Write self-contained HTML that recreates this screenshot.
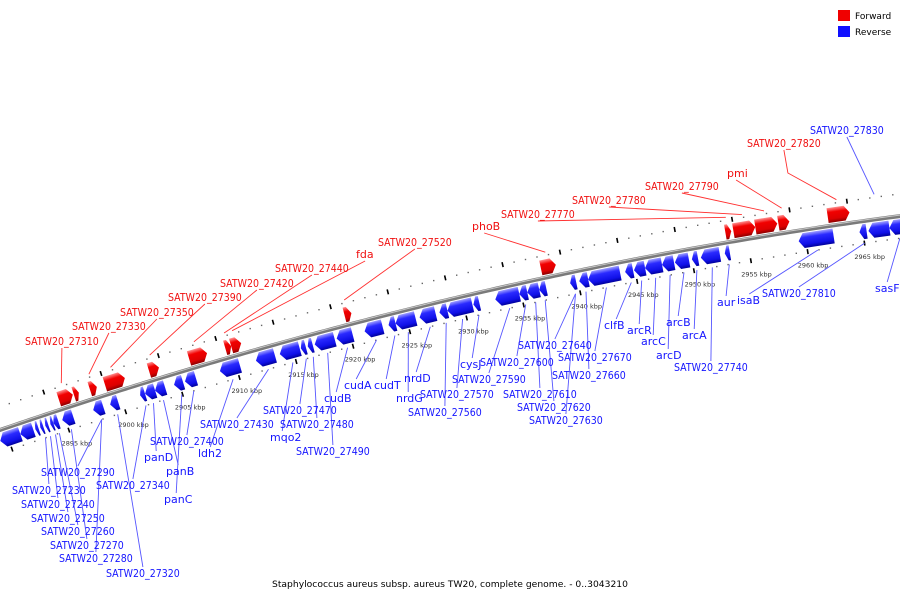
<!DOCTYPE html>
<html><head><meta charset="utf-8"><title>Genome map</title>
<style>
html,body{margin:0;padding:0;background:#fff;}
svg{display:block;font-family:"DejaVu Sans","Liberation Sans",sans-serif;}
</style></head>
<body>
<svg id="chart" width="900" height="600" viewBox="0 0 900 600" xmlns="http://www.w3.org/2000/svg">
<defs>
<linearGradient id="gRed" x1="0" y1="0" x2="0" y2="1">
<stop offset="0" stop-color="#ff9090"/><stop offset="0.3" stop-color="#f20000"/><stop offset="0.75" stop-color="#dd0000"/><stop offset="1" stop-color="#8a0000"/>
</linearGradient>
<linearGradient id="gBlue" x1="0" y1="0" x2="0" y2="1">
<stop offset="0" stop-color="#a0a0ff"/><stop offset="0.3" stop-color="#2a2aff"/><stop offset="0.75" stop-color="#1010e8"/><stop offset="1" stop-color="#00009a"/>
</linearGradient>
</defs>
<g id="legend">
<g>
<rect x="838" y="10" width="12" height="11" fill="#f00000"/>
<text x="855" y="19" font-size="9" fill="#000">Forward</text>
</g>
<g>
<rect x="838" y="26" width="12" height="11" fill="#1010ff"/>
<text x="855" y="35" font-size="9" fill="#000">Reverse</text>
</g>
</g>
<text x="450" y="587" font-size="9" text-anchor="middle" textLength="356" lengthAdjust="spacingAndGlyphs" fill="#000">Staphylococcus aureus subsp. aureus TW20, complete genome. - 0..3043210</text>
<g id="layer"></g>
</svg>
<script>
// ---- data (kbp) ----
const fwdStart = [2895.00,2896.31,2897.71,2899.03,2902.88,2906.38,2909.54,2910.06,2919.96,2937.12,2953.24,2953.94,2955.86,2957.87,2962.17];
const fwdEnd   = [2896.23,2896.75,2898.33,2900.78,2903.76,2907.96,2910.06,2910.94,2920.57,2938.44,2953.76,2955.86,2957.79,2958.84,2964.09];
const revStart = [2889.30,2891.06,2892.37,2892.81,2893.25,2893.69,2893.95,2894.74,2897.45,2898.94,2901.57,2902.00,2902.88,2904.54,2905.51,2908.57,2911.73,2913.83,2915.67,2916.28,2916.89,2918.82,2921.27,2923.37,2923.98,2926.09,2927.84,2928.54,2930.82,2932.74,2934.84,2935.54,2936.59,2939.31,2940.10,2940.89,2944.13,2944.91,2945.88,2947.37,2948.50,2949.99,2950.78,2952.88,2959.37,2964.70,2965.49,2967.33];
const revEnd   = [2891.06,2892.20,2892.64,2893.07,2893.51,2893.95,2894.39,2895.70,2898.33,2899.64,2902.00,2902.88,2903.76,2905.33,2906.47,2910.32,2913.39,2915.58,2916.10,2916.72,2918.64,2920.22,2922.85,2923.98,2925.74,2927.49,2928.54,2930.73,2931.34,2934.84,2935.54,2936.59,2937.21,2939.83,2940.89,2943.69,2944.83,2945.88,2947.37,2948.42,2949.73,2950.52,2952.44,2953.32,2962.43,2965.32,2967.33,2968.90];
const fwdNames = ["SATW20_27310","SATW20_27330","SATW20_27350","SATW20_27390","SATW20_27420","SATW20_27440","fda","SATW20_27520","phoB","SATW20_27770","SATW20_27780","SATW20_27790","pmi","SATW20_27820"];
const fwdGene  = [0,2,3,4,5,6,7,8,9,10,11,12,13,14];
const fwdLabX  = [25,72,120,168,220,275,356,378,472,501,572,645,727,747];
const fwdLabY  = [345,330,316,301,287,272,258,246,230,218,204,190,177,147];
const revNames = ["SATW20_27230","SATW20_27240","SATW20_27250","SATW20_27260","SATW20_27270","SATW20_27280","SATW20_27290","SATW20_27320","SATW20_27340","panD","panB","panC","SATW20_27400","ldh2","SATW20_27430","mqo2","SATW20_27470","SATW20_27480","SATW20_27490","cudB","cudA","cudT","nrdG","nrdD","SATW20_27560","SATW20_27570","cysJ","SATW20_27590","SATW20_27600","SATW20_27610","SATW20_27620","SATW20_27630","SATW20_27640","SATW20_27660","SATW20_27670","clfB","arcR","arcC","arcD","arcB","arcA","SATW20_27740","aur","isaB","SATW20_27810","SATW20_27830","sasF"];
const revGene  = [3,4,5,6,7,8,8,9,10,11,12,13,14,15,16,17,18,19,20,21,22,23,24,25,26,27,28,29,30,31,32,33,33,34,35,36,37,38,39,40,41,42,43,44,45,46,47];
const revLabX  = [12,21,31,41,50,59,41,106,96,144,166,164,150,198,200,270,263,280,296,324,344,374,396,404,408,420,460,452,480,503,517,529,518,552,558,604,627,641,656,666,682,674,717,737,762,810,875];
const revLabY  = [494,508,522,535,549,562,476,577,489,461,475,503,445,457,428,441,414,428,455,402,389,389,402,382,416,398,368,383,366,398,411,424,349,379,361,329,334,345,359,326,339,371,306,304,297,134,292];
const tickKbp  = [2890,2895,2900,2905,2910,2915,2920,2925,2930,2935,2940,2945,2950,2955,2960,2965];

// ---- scales ----
const KB0 = 2889.57, PXK = 11.42;
function X(k){ return (k-KB0)*PXK; }
function Y(x){ return 430 - 0.343*x + 1.17e-4*x*x; }
function ang(x){ return Math.atan(-0.343 + 2.34e-4*x); }
function pt(x,o){ const a=ang(x); return [x - o*Math.sin(a), Y(x) + o*Math.cos(a)]; }
const NS="http://www.w3.org/2000/svg";
const layer=document.getElementById('layer');
function mk(tag,attrs,parent){ const e=document.createElementNS(NS,tag); for(const k in attrs) e.setAttribute(k,attrs[k]); (parent||layer).appendChild(e); return e; }

// backbone
let d=""; for(let x=-5;x<=905;x+=5){ d+=(x===-5?"M":"L")+x.toFixed(1)+","+Y(x).toFixed(2); }
const bb=mk('path',{d:d,fill:'none',stroke:'#7a7a7a','stroke-width':4});


const bb2=mk('path',{d:d,fill:'none',stroke:'#c8c8c8','stroke-width':1,transform:'translate(0,-1)'});



// dotted scale lines
for(let k=2889;k<=2969;k++){
  const x=X(k);
  if(x<-2||x>902) continue;
  [-22,22].forEach(o=>{
    const p=pt(x,o);
    const isTick = (o>0 && k%5===0) || (o<0 && k%5===4);
    let r;
    if(isTick){
      const a=ang(x)*180/Math.PI;
      r=mk('rect',{x:(p[0]-0.8).toFixed(1),y:(p[1]-2.5).toFixed(1),width:1.6,height:5,fill:'#000',transform:`rotate(${a.toFixed(1)} ${p[0].toFixed(1)} ${p[1].toFixed(1)})`});
      
    } else {
      r=mk('rect',{x:(p[0]-0.7).toFixed(1),y:(p[1]-0.7).toFixed(1),width:1.4,height:1.4,fill:'#666'});
      
    }
    
  });
}
tickKbp.forEach(k=>{
  const x=X(k); const p=pt(x,38);
  if(p[0]<25||p[0]>895) return;
  const t=mk('text',{x:(p[0]+3).toFixed(1),y:p[1].toFixed(1),'font-size':6.5,'text-anchor':'middle',fill:'#333'});
  t.textContent=k+" kbp";
  
  
});

function labelWidth(s){ return s.length>=8 ? 6.15*s.length : null; }
function drawLabel(s,x,y,color,name){
  const w=labelWidth(s);
  const attrs={x:x,y:y,'font-size':11,fill:color};
  if(w){ attrs.textLength=w.toFixed(1); attrs.lengthAdjust='spacingAndGlyphs'; }
  const t=mk('text',attrs); t.textContent=s;
  
  
}
function midOf(s,x){ const w=labelWidth(s)||s.length*6.1; return x+w/2; }

fwdNames.forEach((s,i)=>{
  const g=fwdGene[i]; const cx=X((fwdStart[g]+fwdEnd[g])/2);
  const p=pt(cx,-25); const mx=midOf(s,fwdLabX[i]);
  let pts=`${mx.toFixed(1)},${fwdLabY[i]+3} `;
  if(s==="SATW20_27820") pts+=`${(mx+4).toFixed(1)},${fwdLabY[i]+26} `;
  pts+=`${p[0].toFixed(1)},${p[1].toFixed(1)}`;
  const l=mk('polyline',{points:pts,fill:'none',stroke:'#ff3030','stroke-width':0.9});
  
  
});
revNames.forEach((s,i)=>{
  const g=revGene[i]; const cx=X((revStart[g]+revEnd[g])/2);
  const mx=midOf(s,revLabX[i]);
  let p,q;
  if(revLabY[i] < Y(cx)){ p=pt(cx,-25); q=[mx,revLabY[i]+3]; }
  else { p=pt(cx,22); q=[mx,revLabY[i]-10]; }
  const l=mk('line',{x1:p[0].toFixed(1),y1:p[1].toFixed(1),x2:q[0].toFixed(1),y2:q[1].toFixed(1),stroke:'#5555ff','stroke-width':0.9});
  
  
});

function gene(k1,k2,fwd,idx){
  const x1=X(k1), x2=X(k2); const xm=(x1+x2)/2;
  const a=ang(xm); const L=(x2-x1)/Math.cos(a);
  const h=Math.min(5,L*0.55);
  const p0=pt(x1,0);
  let pts;
  if(fwd) pts=[[0,-18],[L-h,-18],[L,-10.5],[L-h,-3],[0,-3]];
  else pts=[[h,3],[L,3],[L,18],[h,18],[0,10.5]];
  const poly=mk('polygon',{points:pts.map(q=>q[0].toFixed(1)+","+q[1]).join(" "),fill:fwd?'url(#gRed)':'url(#gBlue)',transform:`translate(${p0[0].toFixed(1)},${p0[1].toFixed(1)}) rotate(${(a*180/Math.PI).toFixed(2)})`});
  
  
}
fwdStart.forEach((s,i)=>gene(s,fwdEnd[i],true,i));
revStart.forEach((s,i)=>gene(s,revEnd[i],false,i));

fwdNames.forEach((s,i)=>drawLabel(s,fwdLabX[i],fwdLabY[i],'#f01010','gene-label-'+s.toLowerCase()));
revNames.forEach((s,i)=>drawLabel(s,revLabX[i],revLabY[i],'#1515ff','gene-label-'+s.toLowerCase()));
</script>
</body></html>
